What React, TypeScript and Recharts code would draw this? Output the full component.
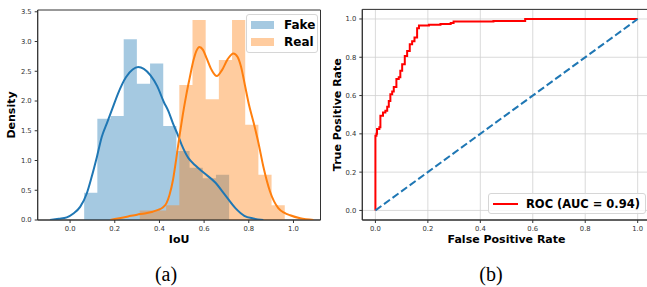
import {
  Area,
  ComposedChart,
  Line,
  ReferenceArea,
  XAxis,
  YAxis,
  CartesianGrid,
} from "recharts"

// (a) IoU histogram + KDE
const iouTicks = [0, 0.2, 0.4, 0.6, 0.8, 1.0]
const densityTicks = [0, 0.5, 1.0, 1.5, 2.0, 2.5, 3.0, 3.5]

const fakeBinEdges = [0.063, 0.122, 0.181, 0.24, 0.299, 0.358, 0.417, 0.476, 0.535, 0.594, 0.653, 0.712]
const fakeBinDensity = [0.46, 1.7, 1.75, 3.04, 2.29, 2.63, 1.58, 1.16, 0.88, 0.7, 0.76]
const realBinEdges = [0.312, 0.371, 0.43, 0.489, 0.548, 0.607, 0.666, 0.725, 0.784, 0.843, 0.902, 0.961]
const realBinDensity = [0.16, 0.16, 0.25, 2.27, 3.36, 2.03, 2.69, 3.36, 1.6, 0.76, 0.25]

const fakeKdeX = [-0.09, -0.05, -0.015, 0.015, 0.045, 0.075, 0.097, 0.12, 0.142, 0.165, 0.19, 0.215, 0.25, 0.28, 0.305, 0.33, 0.36, 0.39, 0.42, 0.44, 0.46, 0.48, 0.5, 0.53, 0.56, 0.6, 0.65, 0.69, 0.74, 0.78, 0.82, 0.865]
const fakeKdeY = [0.0, 0.02, 0.045, 0.11, 0.22, 0.45, 0.73, 1.06, 1.4, 1.63, 1.88, 2.13, 2.4, 2.53, 2.57, 2.54, 2.43, 2.25, 1.98, 1.83, 1.63, 1.45, 1.26, 1.04, 0.92, 0.79, 0.63, 0.44, 0.2, 0.07, 0.025, 0.0]
const realKdeX = [0.18, 0.22, 0.26, 0.3, 0.334, 0.37, 0.394, 0.415, 0.431, 0.445, 0.461, 0.476, 0.49, 0.505, 0.52, 0.535, 0.552, 0.565, 0.579, 0.595, 0.61, 0.634, 0.657, 0.68, 0.705, 0.731, 0.75, 0.765, 0.783, 0.8, 0.82, 0.843, 0.865, 0.895, 0.932, 0.96, 0.985, 1.03, 1.09]
const realKdeY = [0.0, 0.03, 0.06, 0.09, 0.11, 0.14, 0.17, 0.21, 0.28, 0.42, 0.68, 1.05, 1.42, 1.78, 2.1, 2.38, 2.68, 2.84, 2.91, 2.86, 2.73, 2.52, 2.42, 2.52, 2.7, 2.8, 2.74, 2.58, 2.26, 1.95, 1.66, 1.3, 0.9, 0.48, 0.2, 0.12, 0.08, 0.03, 0.0]

// (b) ROC
const rateTicks = [0, 0.2, 0.4, 0.6, 0.8, 1.0]
const rocFpr = [0, 0, 0.004, 0.006, 0.015, 0.019, 0.029, 0.038, 0.045, 0.051, 0.057, 0.064, 0.07, 0.08, 0.089, 0.095, 0.102, 0.112, 0.121, 0.131, 0.14, 0.149, 0.159, 0.166, 0.204, 0.248, 0.287, 0.298, 0.45, 0.571, 1.0]
const rocTpr = [0, 0.39, 0.4, 0.425, 0.435, 0.494, 0.512, 0.52, 0.541, 0.572, 0.607, 0.621, 0.645, 0.686, 0.695, 0.73, 0.764, 0.807, 0.833, 0.868, 0.883, 0.903, 0.952, 0.966, 0.97, 0.974, 0.979, 0.987, 0.99, 1.0, 1.0]
const chanceX = [0, 1]

const BLUE = "#1f77b4"
const ORANGE = "#ff7f0e"
const SPINE = "#333"
const FONT = '"DejaVu Sans", sans-serif'

const histRows = (edges: number[], heights: number[]) =>
  edges.map((x, i) => ({ x, density: heights[Math.min(i, heights.length - 1)] }))

const fakeHist = histRows(fakeBinEdges, fakeBinDensity)
const realHist = histRows(realBinEdges, realBinDensity)
const fakeKde = fakeKdeX.map((x, i) => ({ x, density: fakeKdeY[i] }))
const realKde = realKdeX.map((x, i) => ({ x, density: realKdeY[i] }))
const rocRows = rocFpr.map((x, i) => ({ x, y: rocTpr[i] }))
const chanceRows = chanceX.map((x) => ({ x, y: x }))

const tickStyle = { fontSize: 6.8, fill: "#333", fontFamily: FONT }
const labelStyle = { fontSize: 11, fontWeight: 700, fill: "#000", fontFamily: FONT, textAnchor: "middle" as const }
const fmt = (v: number) => v.toFixed(1)

const X_A: [number, number] = [-0.145, 1.121]
const Y_A: [number, number] = [0, 3.53]
const R_DOM: [number, number] = [-0.05, 1.05]

function LegendBox({ left, top, width, height, children }: any) {
  return (
    <div
      style={{
        position: "absolute",
        left,
        top,
        width,
        height,
        boxSizing: "border-box",
        border: "1px solid #d6d6d6",
        borderRadius: 3,
        background: "rgba(255,255,255,0.8)",
      }}
    >
      {children}
    </div>
  )
}

const captionStyle = {
  position: "absolute" as const,
  top: 262.6,
  width: 60,
  textAlign: "center" as const,
  fontFamily: '"Liberation Serif", serif',
  fontSize: 20,
  lineHeight: "22px",
}

export default function App() {
  return (
    <div
      style={{
        position: "absolute",
        left: 0,
        top: 0,
        width: 647,
        height: 287,
        overflow: "hidden",
        background: "#fff",
        fontFamily: FONT,
      }}
    >
      <div style={{ position: "absolute", left: 0, top: 0 }}>
        <ComposedChart width={330} height={287} margin={{ top: 10, right: 9.5, bottom: 0, left: 0 }}>
          <XAxis
            dataKey="x"
            type="number"
            domain={X_A}
            ticks={iouTicks}
            allowDataOverflow
            tickFormatter={fmt}
            height={67}
            tickSize={3}
            tickMargin={3}
            tick={tickStyle}
            stroke={SPINE}
            label={{ value: "IoU", position: "insideTop", offset: 15, style: labelStyle }}
          />
          <YAxis
            type="number"
            domain={Y_A}
            ticks={densityTicks}
            allowDataOverflow
            tickFormatter={fmt}
            width={37.7}
            tickSize={3}
            tickMargin={3}
            tick={tickStyle}
            stroke={SPINE}
            label={{ value: "Density", angle: -90, position: "insideLeft", offset: 11.5, style: labelStyle }}
          />
          <ReferenceArea x1={X_A[0]} x2={X_A[1]} y1={Y_A[0]} y2={Y_A[1]} fill="none" stroke={SPINE} strokeWidth={1} />
          <Area data={fakeHist} dataKey="density" type="stepAfter" fill={BLUE} fillOpacity={0.4} stroke="none" isAnimationActive={false} />
          <Area data={realHist} dataKey="density" type="stepAfter" fill={ORANGE} fillOpacity={0.4} stroke="none" isAnimationActive={false} />
          <Line data={fakeKde} dataKey="density" type="monotone" stroke={BLUE} strokeWidth={2} dot={false} isAnimationActive={false} />
          <Line data={realKde} dataKey="density" type="monotone" stroke={ORANGE} strokeWidth={2} dot={false} isAnimationActive={false} />
        </ComposedChart>
      </div>

      <div style={{ position: "absolute", left: 320, top: 0 }}>
        <ComposedChart width={340} height={287} margin={{ top: 9.4, right: 9.2, bottom: 0, left: 0 }}>
          <CartesianGrid stroke="#d0d0d0" strokeWidth={0.8} />
          <XAxis
            dataKey="x"
            type="number"
            domain={R_DOM}
            ticks={rateTicks}
            allowDataOverflow
            tickFormatter={fmt}
            height={67}
            tickSize={3}
            tickMargin={3}
            tick={tickStyle}
            stroke={SPINE}
            label={{ value: "False Positive Rate", position: "insideTop", offset: 15.5, style: labelStyle }}
          />
          <YAxis
            type="number"
            domain={R_DOM}
            ticks={rateTicks}
            allowDataOverflow
            tickFormatter={fmt}
            width={42.3}
            tickSize={3}
            tickMargin={3}
            tick={tickStyle}
            stroke={SPINE}
            label={{ value: "True Positive Rate", angle: -90, position: "insideLeft", offset: 16.7, style: labelStyle }}
          />
          <ReferenceArea x1={R_DOM[0]} x2={R_DOM[1]} y1={R_DOM[0]} y2={R_DOM[1]} fill="none" stroke={SPINE} strokeWidth={1} />
          <Line data={rocRows} dataKey="y" type="stepAfter" stroke="#ff0000" strokeWidth={2} dot={false} isAnimationActive={false} />
          <Line data={chanceRows} dataKey="y" type="linear" stroke={BLUE} strokeWidth={2} strokeDasharray="7.4 3.2" dot={false} isAnimationActive={false} />
        </ComposedChart>
      </div>

      <LegendBox left={246} top={14} width={72} height={39}>
        <div style={{ position: "absolute", left: 4, top: 6, width: 23, height: 8, background: BLUE, opacity: 0.4 }} />
        <div style={{ position: "absolute", left: 37, top: 3, fontSize: 12, fontWeight: 700, lineHeight: "14px" }}>Fake</div>
        <div style={{ position: "absolute", left: 4, top: 23, width: 23, height: 8, background: ORANGE, opacity: 0.4 }} />
        <div style={{ position: "absolute", left: 37, top: 20, fontSize: 12, fontWeight: 700, lineHeight: "14px" }}>Real</div>
      </LegendBox>

      <LegendBox left={488} top={193} width={158} height={21}>
        <div style={{ position: "absolute", left: 3.5, top: 9, width: 25, height: 2, background: "#ff0000" }} />
        <div style={{ position: "absolute", left: 37, top: 3, fontSize: 11.5, fontWeight: 700, lineHeight: "14px", whiteSpace: "nowrap" }}>
          ROC (AUC = 0.94)
        </div>
      </LegendBox>

      <div style={{ ...captionStyle, left: 136 }}>(a)</div>
      <div style={{ ...captionStyle, left: 461 }}>(b)</div>
    </div>
  )
}
